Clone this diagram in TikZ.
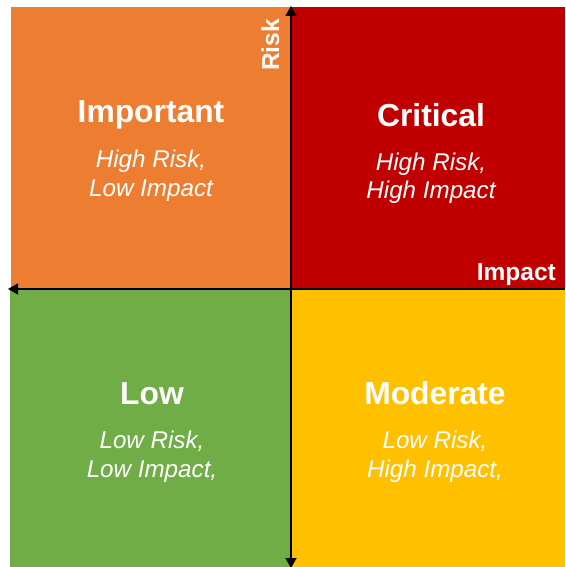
\documentclass[tikz,border=0pt]{standalone}
\usepackage{fontspec}
\setmainfont{Liberation Sans}
\usetikzlibrary{arrows.meta}
\definecolor{qorange}{HTML}{ED7D31}
\definecolor{qred}{HTML}{C00000}
\definecolor{qgreen}{HTML}{70AD47}
\definecolor{qyellow}{HTML}{FFC000}
\tikzset{
  x=1pt, y=1pt,
  title/.style={text=white, anchor=base, inner sep=0pt, font=\fontsize{31.8}{38}\selectfont\bfseries},
  sub/.style={text=white, anchor=base, inner sep=0pt, font=\fontsize{24.2}{29}\selectfont\itshape},
  axislabel/.style={text=white, inner sep=0pt, font=\fontsize{24.5}{29}\selectfont\bfseries},
  axis/.style={line width=1.4pt, black},
  tip/.tip={Triangle[length=10pt,width=11pt]}
}
\begin{document}
\begin{tikzpicture}
\useasboundingbox (0,0) rectangle (565,-567);
% quadrants
\fill[qorange] (11,-7) rectangle (291,-289);
\fill[qred] (291,-7) rectangle (565,-289);
\fill[qgreen] (10,-289) rectangle (291,-567);
\fill[qyellow] (291,-289) rectangle (565,-567);
% axes
\coordinate (vtop) at (291,-6);
\coordinate (vbot) at (291,-568);
\coordinate (hleft) at (8,-289);
\coordinate (hright) at (565,-289);
\draw[axis, tip-tip] (vbot) -- (vtop);
\draw[axis, -tip] (hright) -- (hleft);
\node[axislabel, rotate=90, anchor=base] (risk) at (279,-45) {Risk};
\node[axislabel, anchor=base east] (impact) at (556,-280) {Impact};
% quadrant texts
\node[title] (important) at (151,-123) {Important};
\node[sub] (imp1) at (151,-167) {High Risk,};
\node[sub] (imp2) at (151,-196) {Low Impact};
\node[title] (critical) at (431,-127) {Critical};
\node[sub] (crit1) at (431,-170) {High Risk,};
\node[sub] (crit2) at (431,-198) {High Impact};
\node[title] (low) at (152,-404) {Low};
\node[sub] (low1) at (152,-448) {Low Risk,};
\node[sub] (low2) at (152,-477) {Low Impact,};
\node[title] (moderate) at (435,-404) {Moderate};
\node[sub] (mod1) at (435,-448) {Low Risk,};
\node[sub] (mod2) at (435,-477) {High Impact,};
\end{tikzpicture}
\end{document}
